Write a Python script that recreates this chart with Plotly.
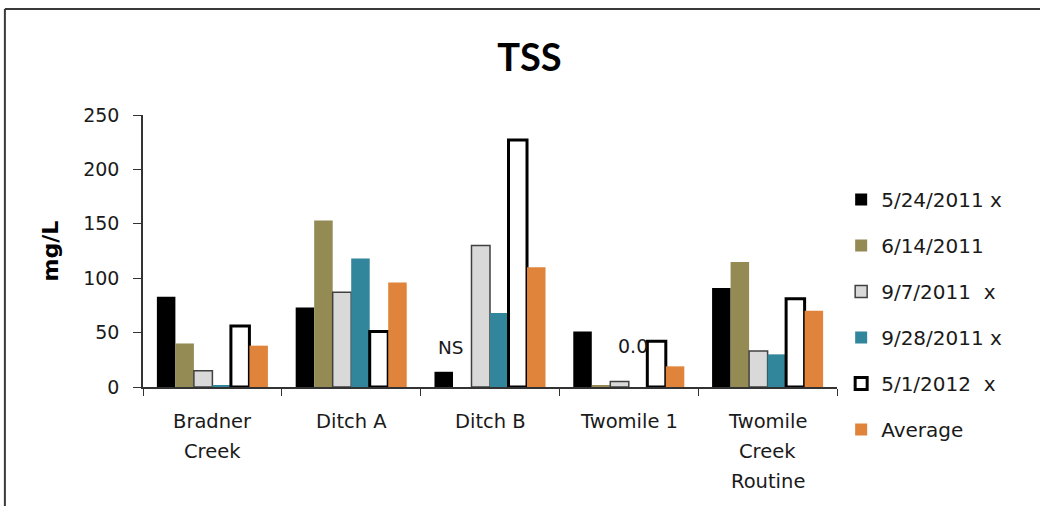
import plotly.graph_objects as go

# Sampling sites and their multi-line axis labels
sites = ["Bradner Creek", "Ditch A", "Ditch B", "Twomile 1", "Twomile Creek Routine"]
site_lines = [["Bradner", "Creek"], ["Ditch A"], ["Ditch B"], ["Twomile 1"], ["Twomile", "Creek", "Routine"]]

# TSS results (mg/L) per sampling date; None = not sampled
series_names = ["5/24/2011 x", "6/14/2011", "9/7/2011  x", "9/28/2011 x", "5/1/2012  x", "Average"]
tss_0524 = [83, 73, 14, 51, 91]
tss_0614 = [40, 153, None, 1, 115]
tss_0907 = [15, 87, 130, 5, 33]
tss_0928 = [1.5, 118, 68, 0.0, 30]
tss_0501 = [56, 51, 227, 42, 81]
tss_avg = [38, 96, 110, 19, 70]

values = [tss_0524, tss_0614, tss_0907, tss_0928, tss_0501, tss_avg]
fills = ["#000000", "#948A54", "#D9D9D9", "#31869B", "#FFFFFF", "#E0843C"]
outlines = ["#000000", "#948A54", "#404040", "#31869B", "#000000", "#E0843C"]
outline_w = [0, 0, 1.5, 0, 3, 0]

FONT = "'DejaVu Sans', sans-serif"
TITLE_FONT = "Lato, 'DejaVu Sans', sans-serif"
TEXT = "#1a1a1a"

fig = go.Figure()
for i, (name, vals) in enumerate(zip(series_names, values)):
    fig.add_trace(go.Bar(
        x=sites, y=vals, name=name, legendgroup=name,
        marker=dict(color=fills[i], line=dict(color=outlines[i], width=outline_w[i])),
    ))

annotations = []
# Multi-line category labels under the axis
for site, lines in zip(sites, site_lines):
    for j, line in enumerate(lines):
        annotations.append(dict(
            x=site, xref="x", y=0, yref="paper", yanchor="middle",
            yshift=-34 - 30 * j, text=line, showarrow=False,
            font=dict(family=FONT, size=19.5, color=TEXT),
        ))

# Notes on missing / zero samples
annotations.append(dict(x="Ditch B", xref="x", y=36, yref="y", xshift=-39,
                        text="NS", showarrow=False,
                        font=dict(family=FONT, size=18.5, color=TEXT)))
annotations.append(dict(x="Twomile 1", xref="x", y=38, yref="y", xshift=4,
                        text="0.0", showarrow=False,
                        font=dict(family=FONT, size=19, color=TEXT)))

fig.update_layout(
    width=1040, height=506,
    margin=dict(l=143, r=203, t=115, b=119),
    paper_bgcolor="white", plot_bgcolor="white",
    barmode="group", bargap=0.2, bargroupgap=0,
    title=dict(text="<b>TSS</b>", x=0.509, xanchor="center", y=0.885, yanchor="middle",
               font=dict(family=TITLE_FONT, size=38, color="#000000")),
    font=dict(family=FONT, size=19, color=TEXT),
    showlegend=True,
    legend=dict(x=1.006, xanchor="left", y=0.2665, yanchor="middle",
                tracegroupgap=17, font=dict(family=FONT, size=20, color=TEXT),
                bgcolor="rgba(0,0,0,0)", itemwidth=30, maxheight=420),
    annotations=annotations,
    shapes=[
        dict(type="line", xref="paper", yref="paper", x0=-0.199, x1=1.3, y0=1.39, y1=1.39,
             line=dict(color="#3a3a3a", width=2)),
        dict(type="line", xref="paper", yref="paper", x0=-0.199, x1=-0.199, y0=1.39, y1=-0.45,
             line=dict(color="#3a3a3a", width=2)),
    ],
)

fig.update_xaxes(
    type="category", showticklabels=False, showline=True, linecolor="#333333", linewidth=1.5,
    ticks="outside", tickson="boundaries", ticklen=7, tickcolor="#333333", showgrid=False,
)
fig.update_yaxes(
    range=[0, 250], dtick=50, showline=True, linecolor="#333333", linewidth=1.5,
    ticks="outside", ticklen=8, tickcolor="#333333", showgrid=False, zeroline=False,
    ticklabelstandoff=10,
    tickfont=dict(family=FONT, size=19, color=TEXT),
    title=dict(text="<b>mg/L</b>", standoff=18, font=dict(family=FONT, size=22, color="#000000")),
)

fig.write_html("out.html")
